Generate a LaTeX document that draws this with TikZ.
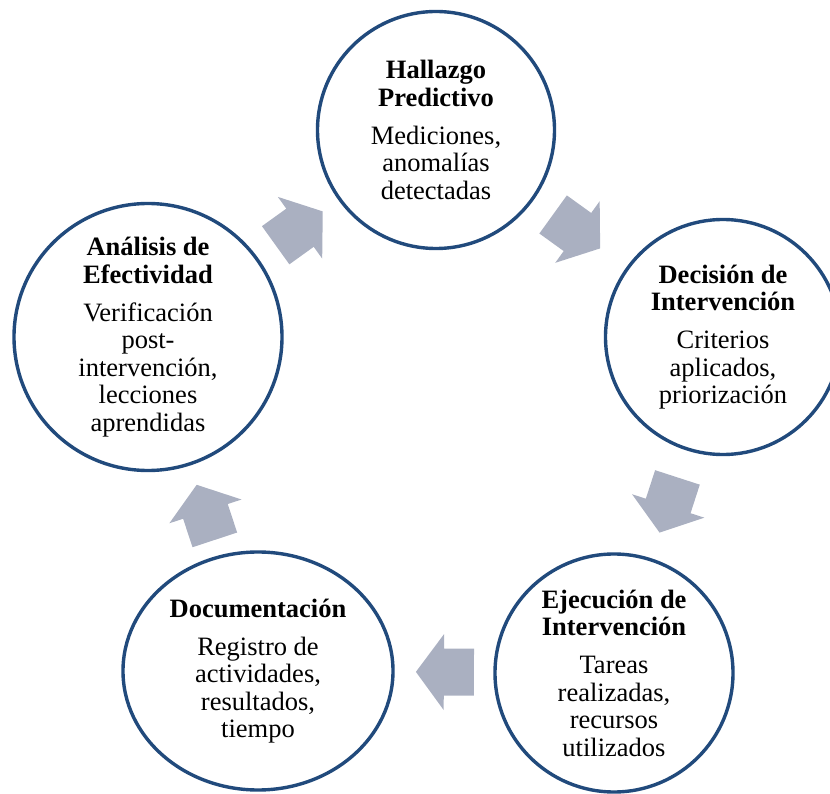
\documentclass[tikz,border=0pt]{standalone}
\usepackage{fontspec}
\setmainfont{Liberation Serif}
\usetikzlibrary{shapes.geometric,calc}

\definecolor{ringblue}{RGB}{33,74,124}
\definecolor{arrowgray}{RGB}{170,176,193}

\tikzset{
  ring/.style={ellipse, draw=ringblue, line width=3.4pt, fill=white, inner sep=0pt},
  txt/.style={align=center, inner sep=0pt, text=black,
              font=\fontsize{26.5}{27.5}\selectfont},
  cyclearrow/.pic={
    \fill[arrowgray] (-29,-23.5) -- (1,-23.5) -- (1,-38) -- (29,0)
                     -- (1,38) -- (1,23.5) -- (-29,23.5) -- cycle;
  }
}

\begin{document}
\begin{tikzpicture}[x=1pt, y=1pt]
\useasboundingbox (0,0) rectangle (830,793);

% stages of the cycle
\node[ring, minimum width=237pt, minimum height=237pt] (top) at (436,663) {};
\node[ring, minimum width=235pt, minimum height=235pt] (rt)  at (723,456) {};
\node[ring, minimum width=238pt, minimum height=238pt] (br)  at (614,120) {};
\node[ring, minimum width=270pt, minimum height=238pt] (bl)  at (258,122) {};
\node[ring, minimum width=268pt, minimum height=267pt] (lt)  at (148,456) {};

\node[txt] (toptxt) at (top) {\textbf{Hallazgo}\\\textbf{Predictivo}\\[10.5pt]Mediciones,\\anomalías\\detectadas};
\node[txt] (rttxt) at (rt) {\textbf{Decisión de}\\\textbf{Intervención}\\[10.5pt]Criterios\\aplicados,\\priorización};
\node[txt] (brtxt) at (br) {\textbf{Ejecución de}\\\textbf{Intervención}\\[10.5pt]Tareas\\realizadas,\\recursos\\utilizados};
\node[txt] (bltxt) at (bl) {\textbf{Documentación}\\[10.5pt]Registro de\\actividades,\\resultados,\\tiempo};
\node[txt] (lttxt) at (lt) {\textbf{Análisis de}\\\textbf{Efectividad}\\[10.5pt]Verificación\\post-\\intervención,\\lecciones\\aprendidas};

% block arrows between consecutive stages, pointing clockwise
\path let \p1=($(top)-(lt)$), \n1={atan2(\y1,\x1)} in
  ($(lt)!0.525!(top)$) pic[rotate=\n1] {cyclearrow};
\path let \p1=($(rt)-(top)$), \n1={atan2(\y1,\x1)} in
  ($(top)!0.49!(rt)$) pic[rotate=\n1] {cyclearrow};
\path let \p1=($(br)-(rt)$), \n1={atan2(\y1,\x1)} in
  ($(rt)!0.5!(br)$) pic[rotate=\n1] {cyclearrow};
\path let \p1=($(bl)-(br)$), \n1={atan2(\y1,\x1)} in
  ($(br)!0.475!(bl)$) pic[rotate=\n1] {cyclearrow};
\path let \p1=($(lt)-(bl)$), \n1={atan2(\y1,\x1)} in
  ($(bl)!0.475!(lt)$) pic[rotate=\n1] {cyclearrow};
\end{tikzpicture}
\end{document}
